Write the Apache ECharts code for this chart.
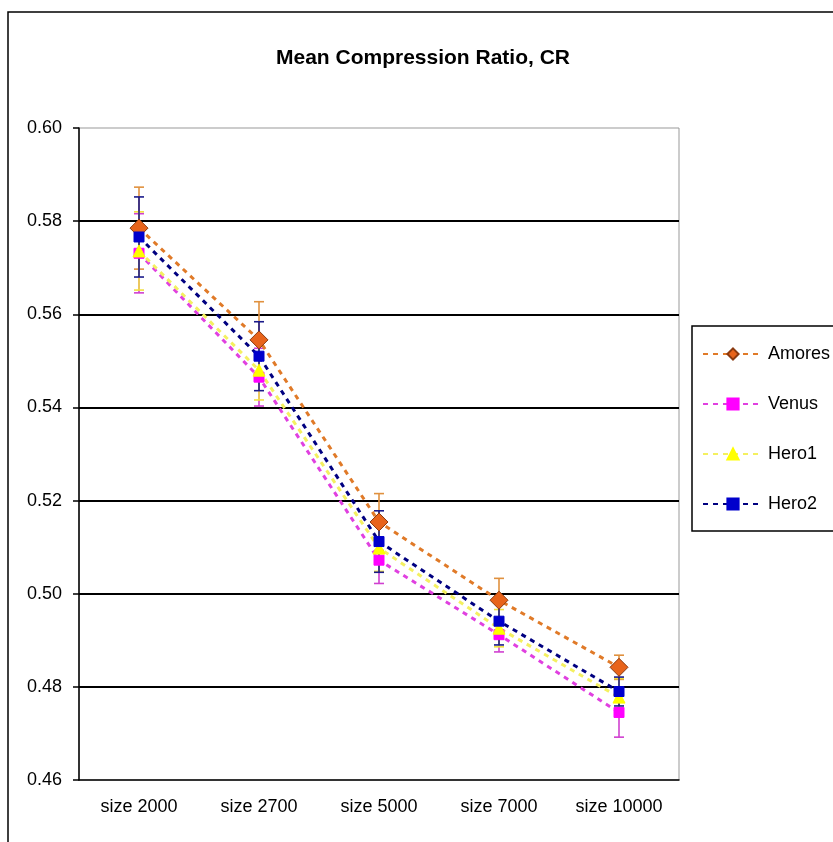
<!DOCTYPE html>
<html><head><meta charset="utf-8">
<script src="https://cdn.jsdelivr.net/npm/echarts@6/dist/echarts.min.js"></script>
<style>html,body{margin:0;padding:0;background:#fff}#c{width:833px;height:842px}</style>
</head><body><div id="c"></div>
<script>
const categories = ['size 2000', 'size 2700', 'size 5000', 'size 7000', 'size 10000'];
const yTicks = [0.46, 0.48, 0.50, 0.52, 0.54, 0.56, 0.58, 0.60];
const amores = [0.5785, 0.5545, 0.5154, 0.4986, 0.4842];
const amoresErr = [0.0088, 0.0082, 0.0061, 0.0047, 0.0026];
const venus = [0.5731, 0.5465, 0.5072, 0.4912, 0.4745];
const venusErr = [0.0085, 0.0062, 0.0050, 0.0037, 0.0053];
const hero1 = [0.5736, 0.5480, 0.5098, 0.4926, 0.4778];
const hero1Err = [0.0084, 0.0064, 0.0050, 0.0040, 0.0040];
const hero2 = [0.5766, 0.5510, 0.5112, 0.4941, 0.4790];
const hero2Err = [0.0086, 0.0074, 0.0066, 0.0051, 0.0031];

const FONT = 'Liberation Sans, Arial, sans-serif';
const seriesDefs = [
  {name: 'Amores', vals: amores, err: amoresErr, line: '#E07A28', fill: '#E8641B', border: '#8A3A10', errColor: '#E0913F', symbol: 'diamond', size: 18},
  {name: 'Venus', vals: venus, err: venusErr, line: '#E040E0', fill: '#FF00FF', border: '#FF00FF', errColor: '#D040D0', symbol: 'rect', size: 10},
  {name: 'Hero1', vals: hero1, err: hero1Err, line: '#F4F060', fill: '#FFFF00', border: '#FFFF00', errColor: '#F0E040', symbol: 'triangle', size: 12},
  {name: 'Hero2', vals: hero2, err: hero2Err, line: '#000080', fill: '#0000CC', border: '#0000CC', errColor: '#1A1A8A', symbol: 'rect', size: 10}
];

const series = [];
seriesDefs.forEach(function (d) {
  series.push({
    type: 'custom',
    name: d.name + ' err',
    z: 2,
    silent: true,
    data: d.vals.map(function (v, i) { return [i, v - d.err[i], v + d.err[i]]; }),
    renderItem: function (params, api) {
      const lo = api.coord([api.value(0), api.value(1)]);
      const hi = api.coord([api.value(0), api.value(2)]);
      const w = 5;
      const st = {stroke: d.errColor, lineWidth: 1.6};
      return {type: 'group', children: [
        {type: 'line', shape: {x1: lo[0], y1: lo[1], x2: hi[0], y2: hi[1]}, style: st},
        {type: 'line', shape: {x1: lo[0] - w, y1: lo[1], x2: lo[0] + w, y2: lo[1]}, style: st},
        {type: 'line', shape: {x1: hi[0] - w, y1: hi[1], x2: hi[0] + w, y2: hi[1]}, style: st}
      ]};
    }
  });
});
seriesDefs.forEach(function (d) {
  series.push({
    type: 'line',
    name: d.name,
    z: 3,
    data: d.vals,
    symbol: d.symbol,
    symbolSize: d.size,
    showAllSymbol: true,
    lineStyle: {color: d.line, width: 3, type: [5, 5]},
    itemStyle: {color: d.fill, borderColor: d.border, borderWidth: 1},
    emphasis: {disabled: true}
  });
});

const chart = echarts.init(document.getElementById('c'), null, {renderer: 'canvas'});
chart.setOption({
  animation: false,
  backgroundColor: '#fff',
  title: {text: 'Mean Compression Ratio, CR', left: 418, top: 43, textAlign: 'center',
    textStyle: {fontFamily: FONT, fontSize: 21, fontWeight: 'bold', color: '#000'}},
  grid: {left: 79, right: 154, top: 128, bottom: 62, show: true, borderColor: '#999', borderWidth: 1},
  legend: {
    orient: 'vertical', left: 697, top: 340, itemWidth: 60, itemHeight: 14, itemGap: 32,
    data: seriesDefs.map(function (d) { return d.name; }),
    textStyle: {fontFamily: FONT, fontSize: 18, color: '#000'},
    selectedMode: false
  },
  xAxis: {
    type: 'category', data: categories, boundaryGap: true,
    axisLine: {lineStyle: {color: '#000', width: 1.5}},
    axisTick: {length: 6, lineStyle: {color: '#000', width: 1.5}},
    axisLabel: {fontFamily: FONT, fontSize: 18, color: '#000', margin: 18}
  },
  yAxis: {
    type: 'value', min: 0.46, max: 0.60, interval: 0.02,
    axisLine: {show: true, lineStyle: {color: '#000', width: 1.5}},
    axisTick: {show: true, length: 6, lineStyle: {color: '#000', width: 1.5}},
    axisLabel: {fontFamily: FONT, fontSize: 18, color: '#000', margin: 17,
      formatter: function (v) { return v.toFixed(2); }},
    splitLine: {show: true, showMinLine: false, showMaxLine: false, lineStyle: {color: '#000', width: 2}}
  },
  graphic: [
    {type: 'rect', shape: {x: 8, y: 12, width: 900, height: 900}, style: {fill: 'none', stroke: '#000', lineWidth: 1.5}, z: -1},
    {type: 'rect', shape: {x: 692, y: 326, width: 200, height: 205}, style: {fill: 'none', stroke: '#000', lineWidth: 1.5}, z: 10}
  ],
  series: series
});
</script></body></html>
